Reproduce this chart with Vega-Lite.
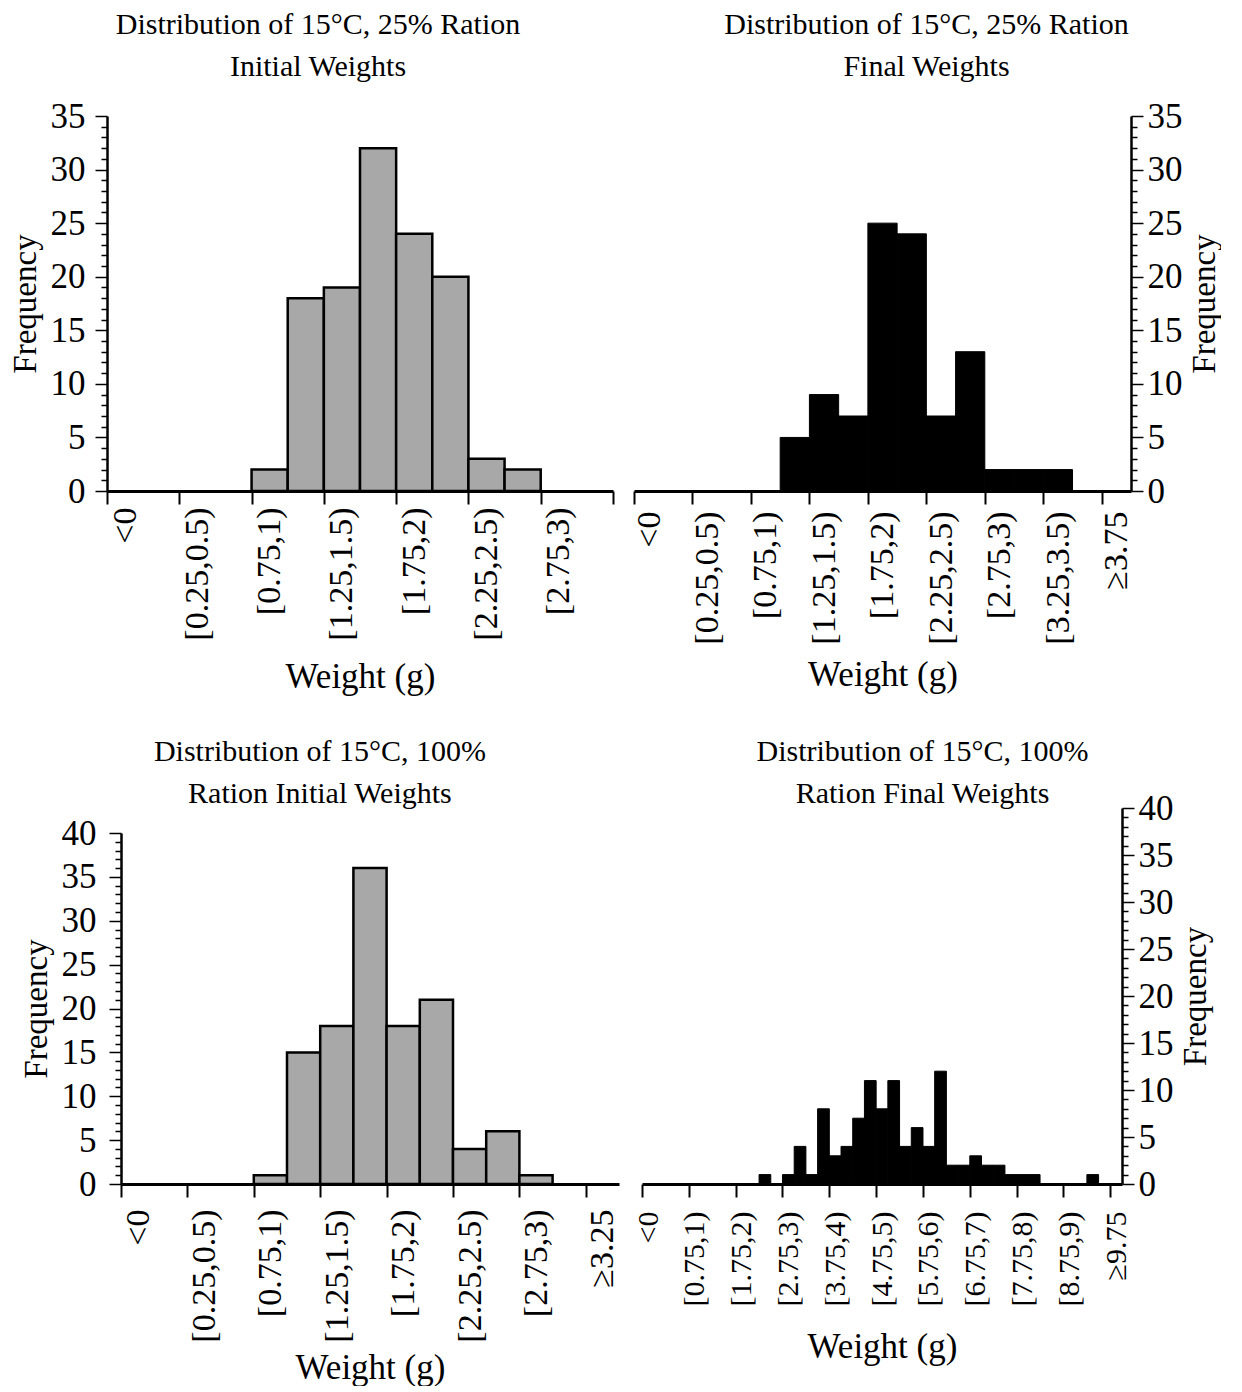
{
  "$schema": "https://vega.github.io/schema/vega-lite/v6.json",
  "background": "white",
  "padding": {"left": 9, "top": 10, "right": 0, "bottom": 0},
  "config": {
    "font": "Liberation Serif",
    "view": {"stroke": null},
    "axis": {
      "labelFont": "Liberation Serif",
      "titleFont": "Liberation Serif",
      "labelColor": "black",
      "titleColor": "black",
      "domainColor": "black",
      "tickColor": "black",
      "titleFontWeight": "normal",
      "grid": false,
      "labelOverlap": false,
      "labelBound": false,
      "labelFlush": false
    },
    "title": {
      "font": "Liberation Serif",
      "fontSize": 30,
      "fontWeight": "normal",
      "color": "black",
      "anchor": "middle",
      "frame": "bounds",
      "lineHeight": 42
    }
  },
  "datasets": {
    "tl": [
      {"lo": 0.75, "hi": 1.0, "count": 2},
      {"lo": 1.0, "hi": 1.25, "count": 18},
      {"lo": 1.25, "hi": 1.5, "count": 19},
      {"lo": 1.5, "hi": 1.75, "count": 32},
      {"lo": 1.75, "hi": 2.0, "count": 24},
      {"lo": 2.0, "hi": 2.25, "count": 20},
      {"lo": 2.25, "hi": 2.5, "count": 3},
      {"lo": 2.5, "hi": 2.75, "count": 2}
    ],
    "tr": [
      {"lo": 1.0, "hi": 1.25, "count": 5},
      {"lo": 1.25, "hi": 1.5, "count": 9},
      {"lo": 1.5, "hi": 1.75, "count": 7},
      {"lo": 1.75, "hi": 2.0, "count": 25},
      {"lo": 2.0, "hi": 2.25, "count": 24},
      {"lo": 2.25, "hi": 2.5, "count": 7},
      {"lo": 2.5, "hi": 2.75, "count": 13},
      {"lo": 2.75, "hi": 3.0, "count": 2},
      {"lo": 3.0, "hi": 3.25, "count": 2},
      {"lo": 3.25, "hi": 3.5, "count": 2}
    ],
    "bl": [
      {"lo": 0.75, "hi": 1.0, "count": 1},
      {"lo": 1.0, "hi": 1.25, "count": 15},
      {"lo": 1.25, "hi": 1.5, "count": 18},
      {"lo": 1.5, "hi": 1.75, "count": 36},
      {"lo": 1.75, "hi": 2.0, "count": 18},
      {"lo": 2.0, "hi": 2.25, "count": 21},
      {"lo": 2.25, "hi": 2.5, "count": 4},
      {"lo": 2.5, "hi": 2.75, "count": 6},
      {"lo": 2.75, "hi": 3.0, "count": 1}
    ],
    "br": [
      {"lo": 2.25, "hi": 2.5, "count": 1},
      {"lo": 2.75, "hi": 3.0, "count": 1},
      {"lo": 3.0, "hi": 3.25, "count": 4},
      {"lo": 3.25, "hi": 3.5, "count": 1},
      {"lo": 3.5, "hi": 3.75, "count": 8},
      {"lo": 3.75, "hi": 4.0, "count": 3},
      {"lo": 4.0, "hi": 4.25, "count": 4},
      {"lo": 4.25, "hi": 4.5, "count": 7},
      {"lo": 4.5, "hi": 4.75, "count": 11},
      {"lo": 4.75, "hi": 5.0, "count": 8},
      {"lo": 5.0, "hi": 5.25, "count": 11},
      {"lo": 5.25, "hi": 5.5, "count": 4},
      {"lo": 5.5, "hi": 5.75, "count": 6},
      {"lo": 5.75, "hi": 6.0, "count": 4},
      {"lo": 6.0, "hi": 6.25, "count": 12},
      {"lo": 6.25, "hi": 6.5, "count": 2},
      {"lo": 6.5, "hi": 6.75, "count": 2},
      {"lo": 6.75, "hi": 7.0, "count": 3},
      {"lo": 7.0, "hi": 7.25, "count": 2},
      {"lo": 7.25, "hi": 7.5, "count": 2},
      {"lo": 7.5, "hi": 7.75, "count": 1},
      {"lo": 7.75, "hi": 8.0, "count": 1},
      {"lo": 8.0, "hi": 8.25, "count": 1},
      {"lo": 9.25, "hi": 9.5, "count": 1}
    ]
  },
  "columns": 2,
  "align": "none",
  "spacing": {"row": 42, "column": 5},
  "concat": [
    {
      "data": {"name": "tl"},
      "width": 506,
      "height": 375,
      "title": {"text": ["Distribution of 15°C, 25% Ration", "Initial Weights"], "offset": 17},
      "mark": {"type": "bar", "fill": "#a8a8a8", "stroke": "black", "strokeWidth": 2.5},
      "encoding": {
        "x": {
          "field": "lo", "type": "quantitative",
          "scale": {"domain": [-0.25, 3.25], "nice": false, "zero": false},
          "axis": {
            "values": [-0.25, 0.25, 0.75, 1.25, 1.75, 2.25, 2.75, 3.25],
            "labelExpr": "datum.value < 0 ? '<0' : datum.value > 3 ? '' : '[' + datum.value + ',' + (datum.value + 0.25) + ')'",
            "labelFontSize": {"condition": {"test": "datum.value > 3", "value": 0}, "value": 34},
            "labelOffset": {"condition": {"test": "datum.value > 3", "value": 14}, "value": 18},
            "labelAngle": -90, "labelPadding": 3,
            "tickSize": 13, "tickWidth": 2, "domainWidth": 3,
            "title": "Weight (g)", "titleFontSize": 35, "titlePadding": 19
          }
        },
        "x2": {"field": "hi"},
        "y": {
          "field": "count", "type": "quantitative",
          "scale": {"domain": [0, 35], "nice": false},
          "axis": {
            "values": [0,1,2,3,4,5,6,7,8,9,10,11,12,13,14,15,16,17,18,19,20,21,22,23,24,25,26,27,28,29,30,31,32,33,34,35],
            "labelExpr": "datum.value % 5 === 0 ? datum.label : ''",
            "tickSize": {"condition": {"test": "datum.value % 5 === 0", "value": 12}, "value": 6},
            "tickWidth": 1.5, "domainWidth": 2.5,
            "labelFontSize": 35, "labelPadding": 10,
            "title": "Frequency", "titleFontSize": 33, "titlePadding": 8
          }
        },
        "y2": {"datum": 0}
      }
    },
    {
      "data": {"name": "tr"},
      "width": 497,
      "height": 375,
      "title": {"text": ["Distribution of 15°C, 25% Ration", "Final Weights"], "offset": 17},
      "mark": {"type": "bar", "fill": "black", "stroke": "black", "strokeWidth": 1},
      "encoding": {
        "x": {
          "field": "lo", "type": "quantitative",
          "scale": {"domain": [-0.25, 4.0], "nice": false, "zero": false},
          "axis": {
            "values": [-0.25, 0.25, 0.75, 1.25, 1.75, 2.25, 2.75, 3.25, 3.75],
            "labelExpr": "datum.value < 0 ? '<0' : datum.value > 3.5 ? '≥3.75' : '[' + datum.value + ',' + (datum.value + 0.25) + ')'",
            "labelAngle": -90, "labelOffset": 15, "labelFontSize": 34, "labelPadding": 7,
            "tickSize": 13, "tickWidth": 2, "domainWidth": 3,
            "title": "Weight (g)", "titleFontSize": 35, "titlePadding": 13
          }
        },
        "x2": {"field": "hi"},
        "y": {
          "field": "count", "type": "quantitative",
          "scale": {"domain": [0, 35], "nice": false},
          "axis": {
            "orient": "right",
            "values": [0,1,2,3,4,5,6,7,8,9,10,11,12,13,14,15,16,17,18,19,20,21,22,23,24,25,26,27,28,29,30,31,32,33,34,35],
            "labelExpr": "datum.value % 5 === 0 ? datum.label : ''",
            "tickSize": {"condition": {"test": "datum.value % 5 === 0", "value": 12}, "value": 6},
            "tickWidth": 1.5, "domainWidth": 2.5,
            "labelFontSize": 35, "labelPadding": 4,
            "title": "Frequency", "titleFontSize": 33, "titlePadding": 6,
            "titleAngle": 270, "titleBaseline": "top"
          }
        },
        "y2": {"datum": 0}
      }
    },
    {
      "data": {"name": "bl"},
      "width": 512,
      "height": 351,
      "title": {"text": ["Distribution of 15°C, 100%", "Ration  Initial Weights"], "offset": 7},
      "mark": {"type": "bar", "fill": "#a8a8a8", "stroke": "black", "strokeWidth": 2.5},
      "encoding": {
        "x": {
          "field": "lo", "type": "quantitative",
          "scale": {"domain": [-0.25, 3.5], "range": [14, 512], "nice": false, "zero": false},
          "axis": {
            "values": [-0.25, 0.25, 0.75, 1.25, 1.75, 2.25, 2.75, 3.25],
            "labelExpr": "datum.value < 0 ? '<0' : datum.value > 3 ? '≥3.25' : '[' + datum.value + ',' + (datum.value + 0.25) + ')'",
            "labelAngle": -90, "labelOffset": 17, "labelFontSize": 34, "labelPadding": 12,
            "tickSize": 13, "tickWidth": 2, "domainWidth": 3,
            "title": "Weight (g)", "titleFontSize": 35, "titlePadding": 8
          }
        },
        "x2": {"field": "hi"},
        "y": {
          "field": "count", "type": "quantitative",
          "scale": {"domain": [0, 40], "nice": false},
          "axis": {
            "offset": -14,
            "values": [0,1,2,3,4,5,6,7,8,9,10,11,12,13,14,15,16,17,18,19,20,21,22,23,24,25,26,27,28,29,30,31,32,33,34,35,36,37,38,39,40],
            "labelExpr": "datum.value % 5 === 0 ? datum.label : ''",
            "tickSize": {"condition": {"test": "datum.value % 5 === 0", "value": 12}, "value": 6},
            "tickWidth": 1.5, "domainWidth": 2.5,
            "labelFontSize": 35, "labelPadding": 13,
            "title": "Frequency", "titleFontSize": 33, "titlePadding": 8
          }
        },
        "y2": {"datum": 0}
      }
    },
    {
      "data": {"name": "br"},
      "width": 480,
      "height": 376,
      "title": {"text": ["Distribution of 15°C, 100%", "Ration  Final Weights"], "offset": -18},
      "mark": {"type": "bar", "fill": "black", "stroke": "black", "strokeWidth": 1},
      "encoding": {
        "x": {
          "field": "lo", "type": "quantitative",
          "scale": {"domain": [-0.25, 10.0], "nice": false, "zero": false},
          "axis": {
            "values": [-0.25, 0.75, 1.75, 2.75, 3.75, 4.75, 5.75, 6.75, 7.75, 8.75, 9.75],
            "labelExpr": "datum.value < 0 ? '<0' : datum.value > 9.5 ? '≥9.75' : '[' + datum.value + ',' + (datum.value + 0.25) + ')'",
            "labelAngle": -90, "labelOffset": 6, "labelFontSize": 30, "labelPadding": 14,
            "tickSize": 13, "tickWidth": 2, "domainWidth": 3,
            "title": "Weight (g)", "titleFontSize": 35, "titlePadding": 24
          }
        },
        "x2": {"field": "hi"},
        "y": {
          "field": "count", "type": "quantitative",
          "scale": {"domain": [0, 40], "nice": false},
          "axis": {
            "orient": "right",
            "values": [0,1,2,3,4,5,6,7,8,9,10,11,12,13,14,15,16,17,18,19,20,21,22,23,24,25,26,27,28,29,30,31,32,33,34,35,36,37,38,39,40],
            "labelExpr": "datum.value % 5 === 0 ? datum.label : ''",
            "tickSize": {"condition": {"test": "datum.value % 5 === 0", "value": 12}, "value": 6},
            "tickWidth": 1.5, "domainWidth": 2.5,
            "labelFontSize": 35, "labelPadding": 4,
            "title": "Frequency", "titleFontSize": 33, "titlePadding": 6,
            "titleAngle": 270, "titleBaseline": "top"
          }
        },
        "y2": {"datum": 0}
      }
    }
  ]
}
